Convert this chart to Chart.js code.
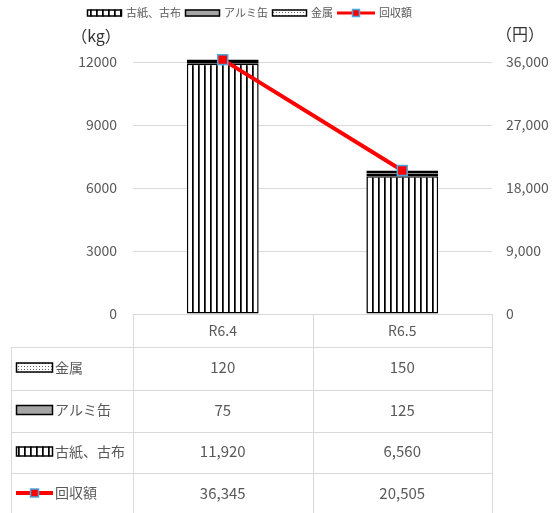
<!DOCTYPE html>
<html>
<head>
<meta charset="utf-8">
<script src="https://cdn.jsdelivr.net/npm/chart.js@4.4.1/dist/chart.umd.min.js"></script>
<style>
  html, body { margin: 0; padding: 0; background: #fff; }
  #wrap { width: 553px; height: 513px; }
</style>
</head>
<body>
<div id="wrap"><canvas id="c" width="553" height="513"></canvas></div>
<script>
const labels = ["R6.4", "R6.5"];
const paper = [11920, 6560];   // 古紙、古布 (kg)
const alumi = [75, 125];       // アルミ缶 (kg)
const metal = [120, 150];      // 金属 (kg)
const amount = [36345, 20505]; // 回収額 (円)
const kgMax = 12000, kgStep = 3000;
const yenMax = 36000, yenStep = 9000;

const FONT = '"Noto Sans CJK JP", "Noto Sans", sans-serif';
const TXT = "#595959";
const GRID = "#d9d9d9";
const fmt = (n) => n.toLocaleString("en-US");

function mkPattern(w, h, draw) {
  const c = document.createElement("canvas");
  c.width = w; c.height = h;
  const g = c.getContext("2d");
  draw(g);
  return g.createPattern(c, "repeat");
}

const stripes = mkPattern(6, 4, g => {
  g.fillStyle = "#fff"; g.fillRect(0, 0, 6, 4);
  g.fillStyle = "#000"; g.fillRect(0, 0, 1, 4);
  g.fillStyle = "#444"; g.fillRect(1, 0, 1, 4);
});
const dots = mkPattern(3, 3, g => {
  g.fillStyle = "#fff"; g.fillRect(0, 0, 3, 3);
  g.fillStyle = "#666"; g.fillRect(0, 0, 1, 1);
});
const gray = "#a6a6a6";

const series = [
  { label: "古紙、古布", fill: stripes },
  { label: "アルミ缶", fill: gray },
  { label: "金属", fill: dots },
];

function drawKey(ctx, kind, x, y, w, h) {
  ctx.save();
  if (kind === "line") {
    ctx.strokeStyle = "#ff0000";
    ctx.lineWidth = h > 8 ? 4 : 3;
    ctx.beginPath(); ctx.moveTo(x, y); ctx.lineTo(x + w, y); ctx.stroke();
    const s = h > 8 ? 8 : 7;
    ctx.fillStyle = "#ff0000";
    ctx.fillRect(x + w / 2 - s / 2, y - s / 2, s, s);
    ctx.strokeStyle = "#4aa8e0"; ctx.lineWidth = 1.5;
    ctx.strokeRect(x + w / 2 - s / 2, y - s / 2, s, s);
  } else {
    ctx.fillStyle = series[kind].fill;
    ctx.fillRect(x, y - h / 2, w, h);
    ctx.strokeStyle = "#000"; ctx.lineWidth = 1.5;
    ctx.strokeRect(x + 0.5, y - h / 2 + 0.5, w - 1, h - 1);
  }
  ctx.restore();
}

const extras = {
  id: "extras",
  afterDraw(chart) {
    const ctx = chart.ctx;
    const area = chart.chartArea;
    const xs = chart.scales.x;
    const half = (xs.getPixelForValue(1) - xs.getPixelForValue(0)) / 2;
    const colEdges = [xs.getPixelForValue(0) - half, xs.getPixelForValue(0) + half, xs.getPixelForValue(1) + half];
    const tLeft = 11;

    ctx.save();
    // legend
    ctx.font = "11px " + FONT;
    const items = [[0, series[0].label], [1, series[1].label], [2, series[2].label], ["line", "回収額"]];
    const keyW = 35, gap = 4;
    let total = 0;
    items.forEach(([k, t]) => { total += (k === "line" ? 38 : keyW) + gap + ctx.measureText(t).width + gap; });
    let lx = (tLeft + colEdges[2]) / 2 - total / 2;
    ctx.textBaseline = "middle"; ctx.textAlign = "left"; ctx.fillStyle = TXT;
    items.forEach(([k, t]) => {
      const w = k === "line" ? 38 : keyW;
      drawKey(ctx, k, lx, 13, w, 7);
      lx += w + gap;
      ctx.fillStyle = TXT;
      ctx.fillText(t, lx, 13);
      lx += ctx.measureText(t).width + gap;
    });

    // axis titles
    ctx.fillStyle = "#333";
    ctx.font = "16px " + FONT;
    ctx.textAlign = "center";
    ctx.fillText("（kg）", 96, 36);
    ctx.fillText("（円）", 520, 34);

    // data table
    const top = area.bottom;
    const rowLines = [347, 390, 432, 473, 515];
    ctx.strokeStyle = GRID; ctx.lineWidth = 1;
    ctx.beginPath();
    ctx.moveTo(colEdges[0], top + 0.5); ctx.lineTo(colEdges[2], top + 0.5);
    rowLines.forEach(y => { ctx.moveTo(tLeft, y + 0.5); ctx.lineTo(colEdges[2], y + 0.5); });
    ctx.moveTo(tLeft + 0.5, rowLines[0]); ctx.lineTo(tLeft + 0.5, 513);
    colEdges.forEach(x => { ctx.moveTo(Math.round(x) + 0.5, top); ctx.lineTo(Math.round(x) + 0.5, 513); });
    ctx.stroke();

    ctx.fillStyle = TXT;
    ctx.font = "14px " + FONT;
    ctx.textAlign = "center";
    labels.forEach((l, i) => ctx.fillText(l, xs.getPixelForValue(i), (top + rowLines[0]) / 2));

    const rows = [
      [2, series[2].label, metal],
      [1, series[1].label, alumi],
      [0, series[0].label, paper],
      ["line", "回収額", amount],
    ];
    rows.forEach(([k, t, vals], r) => {
      const cy = (rowLines[r] + rowLines[r + 1]) / 2 - 1;
      drawKey(ctx, k, 16, cy, 37, 10);
      ctx.fillStyle = TXT;
      ctx.textAlign = "left";
      ctx.font = "14px " + FONT;
      ctx.fillText(t, 55, cy);
      ctx.textAlign = "center";
      ctx.font = "15px " + FONT;
      vals.forEach((v, i) => ctx.fillText(fmt(v), xs.getPixelForValue(i), cy));
    });
    ctx.restore();
  }
};

Chart.defaults.font.family = FONT;
Chart.defaults.color = TXT;

const barBase = {
  type: "bar",
  yAxisID: "y",
  borderColor: "#000",
  borderWidth: 1.5,
  borderSkipped: false,
  barPercentage: 0.4,
  categoryPercentage: 1,
  order: 1,
  clip: false,
};

new Chart(document.getElementById("c"), {
  type: "bar",
  data: {
    labels,
    datasets: [
      { ...barBase, label: series[0].label, data: paper, backgroundColor: stripes },
      { ...barBase, label: series[1].label, data: alumi, backgroundColor: gray },
      { ...barBase, label: series[2].label, data: metal, backgroundColor: dots },
      {
        type: "line",
        label: "回収額",
        data: amount,
        yAxisID: "y2",
        borderColor: "#ff0000",
        borderWidth: 4,
        tension: 0,
        pointStyle: "rect",
        pointRadius: 7,
        pointBackgroundColor: "#ff0000",
        pointBorderColor: "#4aa8e0",
        pointBorderWidth: 1.5,
        order: 0,
        clip: false,
      },
    ],
  },
  options: {
    responsive: false,
    animation: false,
    layout: { padding: { top: 62, bottom: 199, left: 0, right: 0 } },
    plugins: { legend: { display: false }, tooltip: { enabled: false } },
    scales: {
      x: { display: false, stacked: true, offset: true },
      y: {
        position: "left",
        stacked: true,
        min: 0,
        max: kgMax,
        ticks: { stepSize: kgStep, padding: 16, color: TXT, font: { size: 14 }, callback: v => String(v) },
        grid: { color: GRID, drawTicks: false },
        border: { display: false },
        afterFit(s) { s.width = 133; },
      },
      y2: {
        position: "right",
        min: 0,
        max: yenMax,
        ticks: { stepSize: yenStep, padding: 14, color: TXT, font: { size: 14 }, callback: v => fmt(v) },
        grid: { display: false, drawTicks: false },
        border: { display: false },
        afterFit(s) { s.width = 61; },
      },
    },
  },
  plugins: [extras],
});
</script>
</body>
</html>
